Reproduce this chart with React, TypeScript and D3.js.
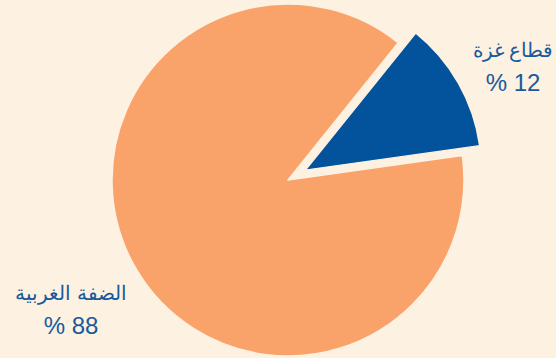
import React from "react";
import * as d3 from "d3";

const categories = ["قطاع غزة", "الضفة الغربية"];
const values = [12, 88];
const valueLabels = ["% 12", "% 88"];
const colors = ["#03529C", "#F9A36B"];

export default function App() {
  const W = 556, H = 358;
  const cx = 288, cy = 180, r = 176;
  const toRad = (d: number) => (d * Math.PI) / 180;
  const pie = d3.pie<number>().sort(null).startAngle(toRad(38.8)).endAngle(toRad(38.8 + 360));
  const arcs = pie(values);
  const arc = d3.arc<d3.PieArcDatum<number>>().innerRadius(0).outerRadius(r);
  const explode = [20, 0];
  const labelPos = [
    { x: 513, y: 57 },
    { x: 71, y: 300 },
  ];
  return (
    <svg width={W} height={H} style={{ position: "absolute", left: 0, top: 0, background: "#FDF1E2" }}>
      <rect width={W} height={H} fill="#FDF1E2" />
      <g transform={`translate(${cx},${cy})`}>
        {arcs.map((a, i) => {
          const mid = (a.startAngle + a.endAngle) / 2;
          const dx = Math.sin(mid) * explode[i];
          const dy = -Math.cos(mid) * explode[i];
          return (
            <path
              key={i}
              d={arc(a) || ""}
              transform={`translate(${dx},${dy})`}
              fill={colors[i]}
              stroke="#FDF1E2"
              strokeWidth={1.5}
              strokeLinejoin="round"
            />
          );
        })}
      </g>
      {categories.map((c, i) => (
        <g key={i} fontFamily="'Liberation Sans', Arial, sans-serif" fill="#1A5A9A" textAnchor="middle">
          <text x={labelPos[i].x} y={labelPos[i].y} fontSize={20} direction="rtl">{c}</text>
          <text x={labelPos[i].x} y={labelPos[i].y + 34} fontSize={24}>{valueLabels[i]}</text>
        </g>
      ))}
    </svg>
  );
}
